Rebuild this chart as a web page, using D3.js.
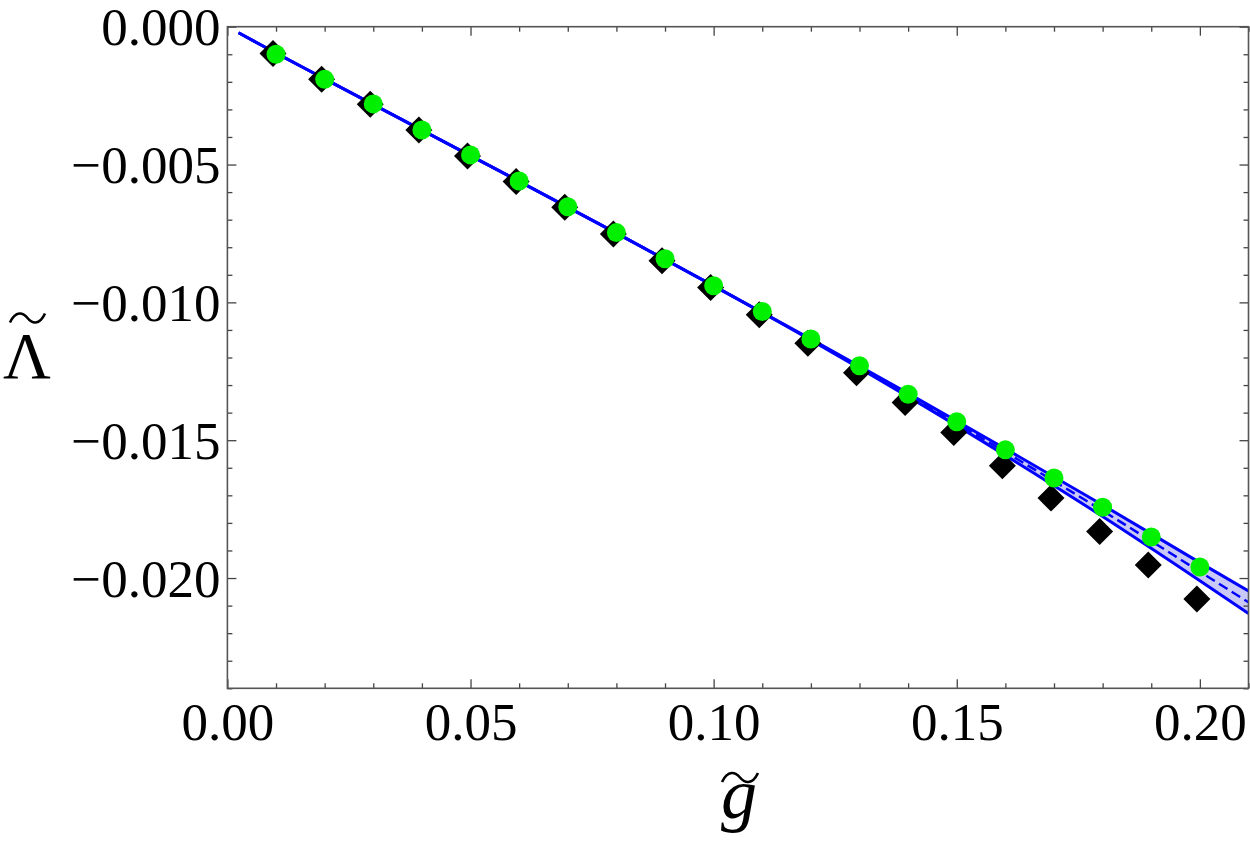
<!DOCTYPE html>
<html>
<head>
<meta charset="utf-8">
<script src="https://cdn.jsdelivr.net/npm/d3@7"></script>
<style>
  body { margin: 0; background: #fff; }
  svg { display: block; }
  .tick text { font-family: "Liberation Serif", "DejaVu Serif", serif; fill: #000; }
  .tick line { stroke: #444; stroke-width: 1.3; }
</style>
</head>
<body>
<script>
// coupling values g~ where the points were computed
const gValues = [0.01, 0.02, 0.03, 0.04, 0.05, 0.06, 0.07, 0.08, 0.09, 0.10,
  0.11, 0.12, 0.13, 0.14, 0.15, 0.16, 0.17, 0.18, 0.19, 0.20];

// black diamonds
const diamondValues = [-0.00097, -0.00191, -0.00281, -0.00375, -0.00469, -0.00562, -0.00655, -0.00752, -0.00849, -0.00946,
  -0.01045, -0.01148, -0.01255, -0.01363, -0.01472, -0.01593, -0.01710, -0.01831, -0.01953, -0.02076];

// green circles
const circleValues = [-0.00100, -0.00191, -0.00280, -0.00375, -0.00465, -0.00560, -0.00653, -0.00747, -0.00842, -0.00940,
  -0.01033, -0.01133, -0.01230, -0.01333, -0.01433, -0.01535, -0.01637, -0.01743, -0.01851, -0.01960];

// blue curve: central (dashed) and the band edges
const curveG = [0.0023, 0.01, 0.02, 0.04, 0.06, 0.08, 0.10, 0.12, 0.14, 0.16, 0.18, 0.20, 0.21];
const curveCenter = [-0.00022, -0.00096, -0.00189, -0.00375, -0.00561, -0.00749, -0.00940, -0.01135, -0.01336, -0.01543, -0.01756, -0.01977, -0.02088];
const curveUpper = [-0.00022, -0.00096, -0.00189, -0.00375, -0.00561, -0.00749, -0.00940, -0.01133, -0.01330, -0.01531, -0.01735, -0.01944, -0.02047];
const curveLower = [-0.00022, -0.00096, -0.00189, -0.00375, -0.00561, -0.00749, -0.00940, -0.01137, -0.01342, -0.01555, -0.01777, -0.02010, -0.02129];

const xMajorTicks = [0, 0.05, 0.10, 0.15, 0.20];
const xTickLabels = ["0.00", "0.05", "0.10", "0.15", "0.20"];
const yMajorTicks = [0, -0.005, -0.010, -0.015, -0.020];
const yTickLabels = ["0.000", "\u22120.005", "\u22120.010", "\u22120.015", "\u22120.020"];

const width = 1250, height = 853;
const frame = {left: 227.4, right: 1248.5, top: 26.7, bottom: 688.3};
const blue = "#0000ff", green = "#00f000";
const tickFont = "53px";

const xScale = d3.scaleLinear().domain([0, 0.21]).range([frame.left, frame.right]);
const yScale = d3.scaleLinear().domain([-0.024, 0]).range([frame.bottom, frame.top]);

const xMinor = d3.range(0, 0.2101, 0.01).filter((d) => !xMajorTicks.some((t) => Math.abs(t - d) < 1e-9));
const yMinor = d3.range(-0.024, 0.0001, 0.001).filter((d) => !yMajorTicks.some((t) => Math.abs(t - d) < 1e-9));

const svg = d3.select("body")
  .append("svg")
  .attr("width", width)
  .attr("height", height);

svg.append("defs").append("clipPath")
  .attr("id", "plot-clip")
  .append("rect")
  .attr("x", frame.left)
  .attr("y", frame.top)
  .attr("width", frame.right - frame.left)
  .attr("height", frame.bottom - frame.top);

// --- curves
const curveData = curveG.map((g, i) => ({g: g, c: curveCenter[i], u: curveUpper[i], l: curveLower[i]}));

const plot = svg.append("g").attr("clip-path", "url(#plot-clip)");

const band = d3.area()
  .curve(d3.curveMonotoneX)
  .x((d) => xScale(d.g))
  .y0((d) => yScale(d.l))
  .y1((d) => yScale(d.u));

plot.append("path")
  .datum(curveData)
  .attr("fill", "#c9c9f7")
  .attr("d", band);

const lineOf = (key) => d3.line()
  .curve(d3.curveMonotoneX)
  .x((d) => xScale(d.g))
  .y((d) => yScale(d[key]));

plot.append("path")
  .datum(curveData)
  .attr("fill", "none")
  .attr("stroke", blue)
  .attr("stroke-width", 3)
  .attr("d", lineOf("u"));

plot.append("path")
  .datum(curveData)
  .attr("fill", "none")
  .attr("stroke", blue)
  .attr("stroke-width", 3)
  .attr("d", lineOf("l"));

plot.append("path")
  .datum(curveData)
  .attr("fill", "none")
  .attr("stroke", blue)
  .attr("stroke-width", 2.5)
  .attr("stroke-dasharray", "10,5")
  .attr("d", lineOf("c"));

// --- points
const diamondSize = 13.5;
const diamondShiftX = -3;
plot.selectAll("path.diamond")
  .data(gValues)
  .enter()
  .append("path")
  .attr("class", "diamond")
  .attr("transform", (d, i) => "translate(" + (xScale(d) + diamondShiftX) + "," + yScale(diamondValues[i]) + ")")
  .attr("d", "M0," + (-diamondSize) + "L" + diamondSize + ",0L0," + diamondSize + "L" + (-diamondSize) + ",0Z")
  .attr("fill", "#000");

plot.selectAll("circle.pt")
  .data(gValues)
  .enter()
  .append("circle")
  .attr("class", "pt")
  .attr("cx", (d) => xScale(d))
  .attr("cy", (d, i) => yScale(circleValues[i]))
  .attr("r", 9.5)
  .attr("fill", green);

// --- axes (ticks pointing inward on all four sides)
const bottomAxis = svg.append("g")
  .attr("transform", "translate(0," + frame.bottom + ")")
  .call(d3.axisBottom(xScale).tickValues(xMajorTicks).tickSize(-9).tickSizeOuter(0)
    .tickFormat((d, i) => xTickLabels[i]));
bottomAxis.selectAll("text")
  .attr("y", 52)
  .attr("dy", 0)
  .style("font-size", tickFont);

svg.append("g")
  .attr("transform", "translate(0," + frame.bottom + ")")
  .call(d3.axisBottom(xScale).tickValues(xMinor).tickSize(-5).tickSizeOuter(0).tickFormat(""));

svg.append("g")
  .attr("transform", "translate(0," + frame.top + ")")
  .call(d3.axisTop(xScale).tickValues(xMajorTicks).tickSize(-9).tickSizeOuter(0).tickFormat(""));

svg.append("g")
  .attr("transform", "translate(0," + frame.top + ")")
  .call(d3.axisTop(xScale).tickValues(xMinor).tickSize(-5).tickSizeOuter(0).tickFormat(""));

const leftAxis = svg.append("g")
  .attr("transform", "translate(" + frame.left + ",0)")
  .call(d3.axisLeft(yScale).tickValues(yMajorTicks).tickSize(-9).tickSizeOuter(0)
    .tickFormat((d, i) => yTickLabels[i]));
leftAxis.selectAll("text")
  .attr("x", -7)
  .attr("dy", 18)
  .style("font-size", tickFont)
  .style("text-anchor", "end");

svg.append("g")
  .attr("transform", "translate(" + frame.left + ",0)")
  .call(d3.axisLeft(yScale).tickValues(yMinor).tickSize(-5).tickSizeOuter(0).tickFormat(""));

svg.append("g")
  .attr("transform", "translate(" + frame.right + ",0)")
  .call(d3.axisRight(yScale).tickValues(yMajorTicks).tickSize(-9).tickSizeOuter(0).tickFormat(""));

svg.append("g")
  .attr("transform", "translate(" + frame.right + ",0)")
  .call(d3.axisRight(yScale).tickValues(yMinor).tickSize(-5).tickSizeOuter(0).tickFormat(""));

svg.selectAll(".domain").remove();

svg.append("rect")
  .attr("x", frame.left)
  .attr("y", frame.top)
  .attr("width", frame.right - frame.left)
  .attr("height", frame.bottom - frame.top)
  .attr("fill", "none")
  .attr("stroke", "#555")
  .attr("stroke-width", 1.6);

// --- axis titles with wide tildes
const tilde = (cx, cy, w, h) => {
  const p = d3.path();
  p.moveTo(cx - w / 2, cy + h / 2);
  p.bezierCurveTo(cx - w / 3, cy - h * 0.9, cx - w / 8, cy - h * 0.6, cx, cy);
  p.bezierCurveTo(cx + w / 8, cy + h * 0.6, cx + w / 3, cy + h * 0.9, cx + w / 2, cy - h / 2);
  return p.toString();
};

svg.append("text")
  .attr("x", 27)
  .attr("y", 378)
  .style("font-family", "'Liberation Serif', serif")
  .style("font-size", "66px")
  .style("text-anchor", "middle")
  .text("\u039B");

svg.append("path")
  .attr("d", tilde(27.5, 318, 35, 9))
  .attr("fill", "none")
  .attr("stroke", "#000")
  .attr("stroke-width", 2.6);

svg.append("text")
  .attr("x", 739)
  .attr("y", 818)
  .style("font-family", "'Liberation Serif', serif")
  .style("font-style", "italic")
  .style("font-size", "72px")
  .style("text-anchor", "middle")
  .text("g");

svg.append("path")
  .attr("d", tilde(740, 777.5, 36, 9))
  .attr("fill", "none")
  .attr("stroke", "#000")
  .attr("stroke-width", 2.6);
</script>
</body>
</html>
